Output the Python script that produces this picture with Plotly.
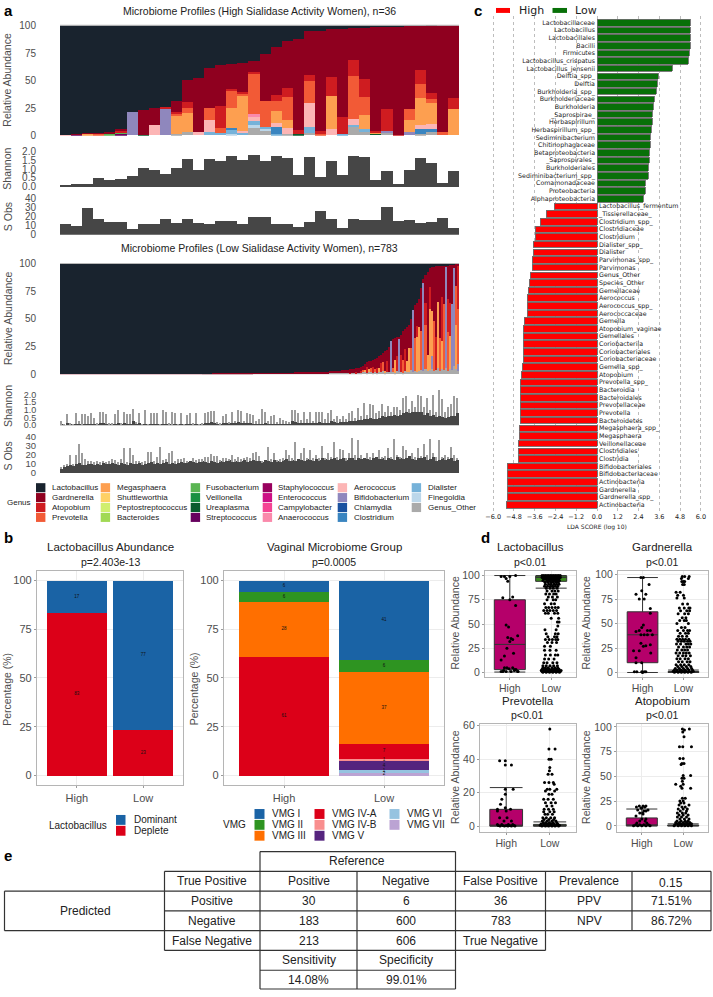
"""
Sialidase activity and the vaginal microbiome: five panel figure.
Values are read off the published picture by eye.
"""

import plotly.graph_objects as go

W, H = 713, 997
SANS = "Liberation Sans, Arial, sans-serif"
DEJA = "DejaVu Sans, sans-serif"
GREY = "#4d4d4d"

# ── a: genus colours (legend order) ──────────────────────
genus_names = [
    "Lactobacillus", "Gardnerella", "Atopobium", "Prevotella",
    "Megasphaera", "Shuttleworthia", "Peptostreptococcus", "Bacteroides",
    "Fusobacterium", "Veillonella", "Ureaplasma", "Streptococcus",
    "Staphylococcus", "Enterococcus", "Campylobacter", "Anaerococcus",
    "Aerococcus", "Bifidobacterium", "Chlamydia", "Clostridium",
    "Dialister", "Finegoldia", "Genus_Other",
]
genus_colors = [
    "#19232e", "#8f001f", "#cf1c20", "#f25a36",
    "#fd9f50", "#fed065", "#d0ee6e", "#a1d954",
    "#5ab552", "#1a9041", "#0a5b2d", "#67015e",
    "#98005e", "#cc0f85", "#f44494", "#fa89ab",
    "#fcb5b5", "#8f87bd", "#1a52a0", "#3a85c0",
    "#76b2d9", "#bcd7ea", "#aaaaaa",
]

# ── a: high sialidase, 36 samples ────────────────────────
h_other = [0, 0, 0, 0, 0, 0, 0, 0, 0, 0, 1, 3, 0, 0, 0, 0, 0, 7.5, 4, 0, 1, 0, 2, 0, 0, 0, 8, 3, 0, 3, 0, 0, 1.5, 3, 0, 0]
h_finegoldia = [0, 0, 0, 0, 0, 0, 0, 0, 0, 0, 0, 0, 0, 0, 0, 1, 0, 1.5, 2, 0, 0, 0, 0, 0, 0, 0, 0, 0, 0, 0, 0, 0, 0, 0, 0, 0]
h_dialister = [0, 0, 0, 0, 0, 0, 0, 0, 0, 0, 0, 0, 0, 3, 2, 4, 2, 4, 1.5, 1, 0, 0, 5.5, 0, 0, 1, 1.5, 2.5, 0, 0, 0, 0, 0, 0, 0, 0]
h_clostridium = [0, 0, 0, 0, 0, 0, 0, 0, 0, 0, 0, 0, 0, 0, 0, 2, 0, 0, 0, 6.5, 0, 0, 0, 0, 0, 0, 0, 0, 0, 0, 0, 0, 4, 3, 0, 0]
h_bifido = [0, 0, 0, 0, 0, 0, 21.5, 0, 0, 24, 0, 0, 0, 0, 0, 0, 0, 0, 0, 0, 0, 0, 0, 0, 0, 0, 0, 0, 0, 1, 0, 3, 0, 0, 0, 0]
h_aero = [0.5, 0, 0, 0, 0, 0, 0, 0, 9.5, 0, 0, 0, 3, 11, 0, 0, 2, 4, 0, 3.5, 6, 0, 21.5, 0, 6, 0, 5, 0, 0, 0, 0, 0, 4, 4, 0, 0]
h_anaero = [0, 0, 0, 0, 0, 0, 0, 0, 0, 0, 0, 0, 0, 0, 0, 0, 0, 2.5, 0, 0, 0, 0, 0, 0, 0, 0, 0, 0, 0, 0, 0, 0, 0, 0, 0, 0]
h_strepto = [0, 1, 0, 0, 0, 1.5, 0, 0, 0, 0, 0, 0, 0, 0, 0, 0, 0, 0, 0, 0, 0, 0, 0, 0, 0, 0, 0, 0, 0, 0, 0, 0, 0, 0, 0, 0]
h_urea = [0, 0, 0, 0, 0, 0, 0, 0.5, 0, 0, 0, 0, 0, 0, 0, 0, 0, 0, 0, 0, 0, 1, 0, 0, 0, 0, 0, 0, 2, 0, 0, 0, 0, 0, 0, 0]
h_fuso = [0, 0, 0, 0, 1.5, 1.5, 0, 0, 0, 0, 0, 0, 0, 0, 0, 0, 0, 0, 0, 0, 0, 0, 0, 0, 0, 0, 0, 0, 0, 0, 0, 0, 0, 0, 0, 0]
h_mega = [0, 0, 1.5, 0, 0, 0, 0, 0, 0, 0, 17, 17, 0, 0, 0, 18, 32.5, 0, 0, 11, 7, 0, 0, 0, 30, 0, 0, 13, 1, 0, 0, 11, 24.5, 19, 0, 24]
h_prev = [0, 0, 0, 1.5, 0, 0, 0, 0, 0, 0, 2, 5, 0, 11, 5, 16, 1.5, 36.5, 23.5, 9, 21, 0, 20, 1, 0, 0, 39, 16, 0, 0, 0, 9.5, 13, 4, 3, 0]
h_atop = [0, 0, 0, 0, 0.5, 1, 0, 0, 0, 1.5, 1, 5, 0, 0, 20, 1, 1, 1, 0, 6, 8, 4, 6, 3, 17, 15.5, 15, 17, 1, 19.5, 0.5, 0, 12, 5.5, 0, 10]
h_gard = [0, 0.5, 0.5, 0.5, 1.5, 2, 0, 22.5, 15, 0, 10, 20, 49, 36, 37, 23, 27, 10.5, 43, 43, 42.5, 82, 39.5, 90.5, 43, 80, 28.5, 46, 94, 75, 98.5, 76, 40.5, 61.2, 97, 66]
h_lacto = [99.5, 98.5, 98, 98, 96.5, 94, 78.5, 77, 75.5, 74.5, 69, 50, 48, 39, 36, 35, 34, 32.5, 26, 20, 14.5, 13, 5.5, 5.5, 4, 3.5, 3, 2.5, 2, 1.5, 1, 0.5, 0.5, 0.3, 0, 0]
h_shannon = [0.09, 0.15, 0.15, 0.5, 0.39, 0.44, 0.57, 1.06, 0.9, 0.73, 1.01, 1.52, 0.9, 1.56, 1.41, 1.7, 1.47, 1.78, 1.41, 1.69, 1.58, 0.64, 1.67, 0.53, 1.43, 0.66, 1.69, 1.63, 0.35, 0.86, 0.17, 0.94, 1.61, 1.34, 0.2, 0.88]
h_sobs = [12, 10, 29, 17, 14, 14, 6, 12, 12, 17, 13, 17, 13, 12, 15, 15, 12, 20, 20, 12, 12, 9, 14, 26, 17, 7, 17, 16, 16, 31, 15, 16, 13, 14, 18, 8]

# ── a: low sialidase, 783 samples read as blocks ─────────
# flat left end in 27 wide blocks, the rising right end in 64 narrow ones
low_block_start = list(range(0, 530, 20)) + list(range(530, 786, 4))
flat_other = [0, 0, 0, 0, 0, 0, 0, 0, 0, 0, 0, 0, 0, 0, 0.1, 0.2, 0.2, 0.3, 0.3, 0.4, 0.5, 0.5, 0.6, 0.6, 0.7, 0.8, 0.8]
flat_gard = [0.1, 0.1, 0.1, 0.1, 0.2, 0.2, 0.2, 0.3, 0.3, 0.4, 0.5, 0.5, 0.5, 0.5, 0.6, 0.6, 0.7, 0.7, 0.8, 0.8, 0.9, 1, 1, 1.2, 1.2, 1.4, 1.5]
flat_lacto = [99.9, 99.9, 99.9, 99.9, 99.8, 99.8, 99.8, 99.7, 99.7, 99.6, 99.5, 99.5, 99.5, 99.5, 99.3, 99.2, 99.1, 99, 98.9, 98.8, 98.6, 98.5, 98.4, 98.2, 98.1, 97.8, 97.7]
flat_none = [0] * 27
tail_other = [1, 1, 1, 1, 1, 1, 1, 1, 1, 1,
              1, 1, 1, 1, 1, 1, 2, 2, 1, 2,
              2, 1, 2, 1, 2, 2, 3, 1, 2, 2,
              2, 2, 1, 3, 2, 2, 1, 3, 2, 2,
              4, 2, 3, 2, 3, 4, 3, 5, 3, 4,
              5, 3, 4, 6, 3, 5, 4, 6, 3, 5,
              4, 8, 5, 3]
tail_bifido = [0, 0, 0, 0, 0, 0, 0, 0, 0, 0,
               0, 0, 0, 0, 0, 0, 0, 0, 0, 0,
               0, 0, 0, 0, 0, 0, 0, 0, 0, 0,
               28, 0, 0, 0, 30, 0, 0, 0, 0, 0,
               0, 56, 0, 0, 0, 0, 80, 0, 0, 0,
               12, 0, 0, 0, 0, 0, 0, 92, 0, 0,
               60, 88, 0, 6]
tail_mega = [0, 0, 0, 0, 0, 0, 0, 0, 0, 0,
             0, 0, 0, 0, 0, 0, 0, 2, 0, 3,
             0, 0, 0, 0, 4, 0, 0, 2, 0, 0,
             0, 0, 12, 0, 0, 0, 0, 0, 10, 22,
             0, 0, 0, 32, 40, 0, 0, 0, 15, 55,
             40, 0, 0, 60, 0, 25, 0, 0, 0, 30,
             0, 0, 40, 0]
tail_prev = [0, 0, 0, 0, 0, 0, 0, 0, 0, 0,
             0, 0, 0, 0, 0, 0, 2, 0, 0, 0,
             4, 0, 3, 0, 0, 0, 8, 0, 0, 0,
             0, 4, 0, 0, 0, 0, 12, 0, 0, 0,
             20, 0, 30, 0, 0, 35, 0, 40, 0, 0,
             0, 45, 0, 0, 30, 0, 60, 0, 35, 0,
             0, 0, 35, 50]
tail_atop = [0, 0, 0, 0, 0, 0, 0, 0, 0, 0,
             0.5, 0, 0, 1, 0, 2, 0, 0, 6, 0,
             0, 6, 0, 5, 0, 8, 0, 0, 10, 0,
             0, 0, 0, 14, 0, 16, 0, 20, 0, 0,
             0, 0, 0, 10, 0, 0, 0, 20, 0, 20,
             0, 0, 30, 0, 0, 40, 0, 0, 30, 30,
             0, 0, 0, 40]
tail_gard = [2, 2, 2, 2.5, 2.5, 2.5, 3, 3, 3, 3,
             3, 4, 4, 3.5, 5, 3.5, 3.5, 5, 4, 7,
             6.5, 6, 9, 9, 11, 8, 8, 18, 10, 23,
             0, 26, 20, 17, 2, 18, 26, 18, 31, 21,
             26, 0, 30, 21, 25, 39, 3, 25, 75, 17,
             40, 49.5, 64, 32, 65.5, 28.5, 35, 1, 31, 34.5,
             35.5, 3.7, 20, 1]
tail_lacto = [97, 97, 97, 96.5, 96.5, 96.5, 96, 96, 96, 96,
              95.5, 95, 95, 94.5, 94, 93.5, 92.5, 91, 89, 88,
              87.5, 87, 86, 85, 83, 82, 81, 79, 78, 75,
              70, 68, 67, 66, 66, 64, 61, 59, 57, 55,
              50, 42, 37, 35, 32, 22, 14, 10, 7, 4,
              3, 2.5, 2, 2, 1.5, 1.5, 1, 1, 1, 0.5,
              0.5, 0.3, 0, 0]

low_shannon_base = [
    .05, .03, .2, .05, .05, .08, .1, .05, .1, .08, .12, .1, .08, .2, .15, .1, .08, .08, .1, .2,
    .1, .2, .1, .12, .3, .1, .2, .06, .12, .05, .1, .08, .1, .05, .1, .08, .08, .06, .08, .05,
    .08, .05, .08, .1, .08, .08, .06, .08, .15, .2, .25, .2, .12, .1, .15, .2, .15, .2, .15, .25,
    .2, .15, .2, .2, .12, .12, .1, .12, .15, .12, .1, .1, .12, .08, .1, .1, .12, .3, .25, .15,
    .15, .2, .15, .2, .15, .2, .25, .2, .2, .2, .3, .25, .2, .25, .25, .25, .3, .3, .3, .35,
    .35, .45, .4, .5, .45, .45, .5, .6, .55, .6, .6, .7, .65, .7, .8, .85, .8, .85, .85, .9,
    .9, .7, .8, .65, .7, .55, .6, .55, .5, .55, .6, .65, .8]
low_shannon_peak = [
    .3, .1, .75, .2, .1, .8, .3, .75, .75, .65, .8, .5, .2, .85, .85, .75, .15, .2, .75, 1.0,
    .2, .9, .75, .75, 1.07, .25, .8, .1, 1.0, .1, .8, .8, .8, .1, 1.0, .85, .15, .85, .8, .1,
    .8, .1, .7, .8, .15, .8, .1, .15, .8, .9, .95, .95, .2, .2, .65, .75, .2, .85, .3, 1.0,
    .95, .3, .8, .75, .7, .3, .4, 1.07, .9, .3, .65, .7, .2, .5, .35, .3, .2, 1, 1, .8,
    .35, .9, .4, .85, .3, .9, .9, .85, .4, .8, 1, .45, .65, .4, .65, .4, .8, .95, .5, 1.13,
    .6, 1.45, .7, 1.4, 1.35, .8, .95, 1.4, .9, 1.3, .9, 1.2, 1.2, 1.0, 1.8, 1.9, 1.1, 1.6, 1.2, 2.0,
    1.9, 1.2, 1.8, 1.0, 2.0, .9, 2.3, 1.7, .9, 1.2, 1.4, 1.9, 1.8]
low_sobs_base = [
    4, 6, 8, 9, 8, 10, 11, 9, 9, 10, 10, 9, 10, 9, 11, 10, 10, 11, 10, 9,
    11, 10, 9, 11, 10, 10, 11, 9, 10, 11, 12, 10, 11, 10, 11, 12, 10, 11, 10, 11,
    12, 11, 12, 13, 12, 11, 12, 13, 12, 11, 13, 12, 11, 13, 12, 13, 14, 12, 13, 12,
    13, 14, 12, 13, 14, 13, 13, 12, 14, 13, 12, 14, 13, 12, 14, 15, 13, 14, 13, 15,
    14, 13, 15, 14, 13, 15, 14, 16, 15, 14, 15, 16, 14, 15, 16, 14, 17, 16, 14, 16,
    15, 17, 15, 14, 16, 18, 15, 16, 14, 17, 15, 14, 18, 16, 15, 17, 19, 15, 14, 16,
    17, 18, 14, 15, 18, 13, 14, 16, 14, 15, 16, 13, 14]
low_sobs_peak = [
    7, 9, 10, 20, 9, 20, 32, 22, 15, 13, 13, 12, 13, 12, 13, 12, 13, 15, 14, 12,
    15, 27, 12, 27.5, 20, 13, 13, 12, 13, 23, 23, 13, 18, 29, 14, 15, 22, 24, 13, 15,
    15, 17, 13, 13, 16.5, 14, 15, 15, 18, 18, 21, 19, 19, 14, 16, 16, 15, 19.5, 15, 18,
    15, 17, 18, 17, 22, 23, 19, 13, 14, 28.5, 15, 22, 14, 15, 16, 25.6, 20, 16, 34, 15,
    22, 27, 16, 25.6, 17, 20, 16, 30, 17, 22, 18, 34, 18, 26, 25, 16, 22, 38.5, 20, 36,
    20, 17, 22, 18, 22, 18, 25, 18, 19, 27, 18, 37, 20, 18, 30, 25, 19, 22, 18, 27,
    19, 32, 20, 37, 22, 18, 36, 17, 20, 18, 28.5, 20, 17]

# ── b: stacked percentages ───────────────────────────────
abundance_groups = ["High", "Low"]
lacto_deplete = [83.3, 23.3]
lacto_dominant = [16.7, 76.7]
lacto_text = [["83", "23"], ["17", "77"]]

vmg_names = ["VMG VII", "VMG VI", "VMG V", "VMG IV-B", "VMG IV-A", "VMG III", "VMG II", "VMG I"]
vmg_colors = ["#bba3d3", "#96c3e0", "#55247e", "#f98e8e", "#dc0018", "#ff6f00", "#2e9421", "#1a63a5"]
vmg_high = [0, 0, 0, 0, 61.1, 27.8, 5.55, 5.55]
vmg_low = [1.7, 1.3, 4.4, 1.3, 7.6, 36.8, 6.1, 40.7]
vmg_high_text = ["", "", "", "", "61", "28", "6", "6"]
vmg_low_text = ["2", "1", "4", "1", "7", "37", "6", "41"]

# ── c: LDA scores ────────────────────────────────────────
lda_low_names = [
    "Lactobacillaceae", "Lactobacillus", "Lactobacillales", "Bacilli", "Firmicutes",
    "Lactobacillus_crispatus", "Lactobacillus_jensenii", "Delftia_spp_", "Delftia",
    "Burkholderia_spp_", "Burkholderiaceae", "Burkholderia", "_Saprospirae_", "Herbaspirillum",
    "Herbaspirillum_spp_", "Sediminibacterium", "Chitinophagaceae", "Betaproteobacteria",
    "_Saprospirales_", "Burkholderiales", "Sediminibacterium_spp_", "Comamonadaceae",
    "Proteobacteria", "Alphaproteobacteria",
]
lda_low_scores = [5.39, 5.39, 5.39, 5.39, 5.32, 5.26, 4.34, 3.55, 3.51, 3.45, 3.33, 3.28, 3.18, 3.18,
                  3.16, 3.10, 3.08, 3.04, 3.03, 2.99, 2.97, 2.83, 2.81, 2.66]
lda_high_names = [
    "Lactobacillus_fermentum", "_Tissierellaceae_", "Clostridium_spp_", "Clostridiaceae", "Clostridium",
    "Dialister_spp_", "Dialister", "Parvimonas_spp_", "Parvimonas", "Genus_Other", "Species_Other",
    "Gemellaceae", "Aerococcus", "Aerococcus_spp_", "Aerococcaceae", "Gemella", "Atopobium_vaginae",
    "Gemellales", "Coriobacteriia", "Coriobacteriales", "Coriobacteriaceae", "Gemella_spp_", "Atopobium",
    "Prevotella_spp_", "Bacteroidia", "Bacteroidales", "Prevotellaceae", "Prevotella", "Bacteroidetes",
    "Megasphaera_spp_", "Megasphaera", "Veillonellaceae", "Clostridiales", "Clostridia",
    "Bifidobacteriales", "Bifidobacteriaceae", "Actinobacteria", "Gardnerella", "Gardnerella_spp_",
    "Actinobacteria",
]
lda_high_scores = [-2.43, -2.93, -3.28, -3.56, -3.56, -3.66, -3.66, -3.72, -3.72, -3.85, -3.91, -3.95,
                   -3.99, -3.99, -4.01, -4.20, -4.22, -4.22, -4.26, -4.26, -4.26, -4.30, -4.35, -4.41,
                   -4.41, -4.41, -4.41, -4.43, -4.43, -4.47, -4.47, -4.51, -4.55, -4.55, -5.18, -5.18,
                   -5.20, -5.20, -5.20, -5.24]
lda_ticks = [-6, -4.8, -3.6, -2.4, -1.2, 0, 1.2, 2.4, 3.6, 4.8, 6]

# ── d: box stats (q1, median, q3, lower, upper) and points ──
box_lacto = {"High": (3, 29, 75, 0.5, 100), "Low": (94, 98, 99.5, 87, 100)}
box_gard = {"High": (10, 38.5, 62, 0, 97), "Low": (0, 0.3, 1, 0, 2.5)}
box_prev = {"High": (0, 0.5, 10, 0, 23), "Low": (0, 0.2, 1, 0, 2.5)}
box_atop = {"High": (0, 1, 8, 0, 17), "Low": (0, 0.2, 0.8, 0, 2)}

# value: horizontal jitter offsets of the points seen at that value
lacto_high_pts = {100: [.14], 99: [-.21, -.13, 0], 97: [-.09], 94: [-.05], 78: [.07], 77: [-.17], 75: [0], 69: [.14],
                  49: [-.09], 47: [-.03], 38: [.19], 36: [-.05], 35: [.03], 34: [.07], 32: [0], 25: [-.07], 20: [.09],
                  17: [-.13], 13: [-.21], 5: [-.13, -.07, .07], 4: [-.02], 3: [.15, .12], 2: [.11, -.15],
                  1: [-.21, -.17, -.09, .03, .19, .2]}
lacto_low_pts = {
    100: [-.22, -.18, -.14, -.1, -.06, -.02, .02, .06, .1, .14, .18, .22],
    99: [-.2, -.16, -.12, -.08, -.04, 0, .04, .08, .12, .16, .2],
    98: [-.22, -.18, -.14, -.1, -.06, -.02, .02, .06, .1, .14, .18, .22],
    96.5: [-.18, -.12, -.06, 0, .06, .12, .18], 95: [-.2, -.1, -.04, .03, .09, .15, .2],
    93: [-.15, -.08, -.01, .05, .12, .17], 91: [-.14, -.06, 0, .07, .13, .19],
    89: [-.16, -.09, -.02, .04, .1, .16], 87: [-.12, -.03, .05, .14], 84: [-.1, .02, .09, .17],
    81: [-.13, -.04, .06, .12], 78: [-.07, .03, .15], 75: [-.1, .05, .11], 71: [-.16, 0, .08],
    67: [-.13, -.06, .02, .1, .17], 64: [-.18, -.1, -.03, .05, .13], 61: [-.14, -.07, .08, .16],
    56: [0, .18], 52: [.15, .19], 48: [.16], 44: [-.15, .12], 40: [-.12, .1, .17], 37: [-.08, .08, .14],
    34: [-.14, -.05, .03, .11, .16], 31: [-.09, .02, .13], 27: [-.16, -.02], 23: [-.16, -.03, .12],
    18: [-.14, -.02, .1, .16], 14: [-.16, -.06, .07], 10: [-.18, -.1, .04, .14],
    7: [-.2, -.12, -.03, .06, .15], 5: [-.2, -.14, -.07, .02, .09, .16],
    3.5: [-.22, -.17, -.11, -.05, .01, .07, .13, .19],
    2: [-.24, -.18, -.13, -.08, -.03, .03, .08, .14, .2, .24],
    1: [-.22, -.16, -.1, -.05, 0, .05, .1, .16, .22], 0.3: [-.2, -.12, -.04, .04, .12, .2],
}
gard_high_pts = {97: [-.04, .02], 90: [.16], 83.5: [-.02], 80: [-.16, .08], 75: [-.08, .04], 65.5: [.19], 60.5: [.19],
                 48.5: [.02], 46: [-.02], 43: [-.08, .12, .19], 42: [-.16], 38.5: [-.04, .04, .12, .24], 30: [-.04],
                 28.4: [.19], 27.4: [.08], 26.7: [.02], 22.3: [-.22, -.08], 20: [.2], 15: [-.16], 10: [-.16, -.02],
                 0.7: [-.2, -.14, -.02, .04, .08], 0: [0]}
gard_low_pts = {
    98: [-.03, .03, .14], 96: [-.05, .12], 93: [-.04, 0, .03], 90: [-.02, .02], 82: [-.18, -.08], 79: [-.14, 0],
    76: [-.16, .02], 70: [-.02, .1], 66: [-.1, .02, .13, .16], 63: [-.07, .08, .15], 60: [-.13, .03, .12],
    56: [-.03, .06], 53: [-.09, .02, .07], 50: [-.16, .12], 46: [-.05, .04], 43: [-.14, 0, .1, .15],
    40: [-.08, .05, .12], 37: [-.12, -.03, .08], 34: [-.16, -.09, -.02, .05, .13], 32: [-.13, -.05, .02, .1, .16],
    29: [-.17, -.07, .06, .12, .18], 26: [-.12, 0, .08, .15], 23: [-.15, -.04, .03, .1],
    20: [-.18, -.09, 0, .07, .14], 17: [-.13, -.02, .06, .17], 14: [-.16, -.08, .04, .12],
    11: [-.12, -.03, .09, .16], 8: [-.18, -.07, .02, .13], 6: [-.14, -.04, .07, .18], 4: [-.2, -.1, 0, .1, .2],
    2.5: [-.22, -.15, -.06, .04, .13, .22], 1.2: [-.25, -.17, -.09, -.02, .06, .14, .24],
    0.3: [-.22, -.13, -.05, .03, .11, .19],
}
prev_high_pts = {39: [-.15, -.02], 36.5: [-.02, .12], 22: [-.02, .16], 19: [-.02], 16: [-.1], 13: [-.13], 11: [-.02],
                 10: [-.2, .1], 9: [-.2, 0], 5: [-.15, .02], 3: [-.05, .12], 1: [-.2, -.1, .05, .15],
                 0.3: [-.18, -.08, 0, .08, .18], 0: [-.14, -.04, .04, .12, .2]}
prev_low_pts = {58: [0], 46: [-.02, .12], 40: [-.02, .03], 35: [0], 33: [-.01], 31: [-.04, .05], 26: [-.12, -.02, .08],
                25: [.1], 22: [-.06, 0, .16], 21: [-.1, .11], 19: [.05, -.02], 16: [-.14, -.04, .08],
                14: [-.1, .03, .13], 12: [-.07, .05], 10: [-.13, -.03, .08], 8.5: [-.14, 0, .1], 7: [-.11, -.05, .06],
                5: [-.16, -.08, .02, .11], 4: [-.13, -.02, .09], 3: [-.17, -.06, .05, .14],
                2: [-.15, -.09, -.01, .07, .16], 1.2: [-.2, -.11, -.04, .03, .1, .18],
                0.5: [-.22, -.14, -.07, 0, .08, .15, .22], 0: [-.18, -.1, -.03, .05, .12, .2]}
atop_high_pts = {20: [-.06, .03, .1], 19: [-.13, .07], 18: [-.02, 0], 16: [-.1, .15], 15: [.05, .1], 13: [-.05, .02],
                 12: [.03], 10: [-.14], 7: [0, .1], 5: [-.05, .08], 3: [-.12, .12], 1: [-.15, -.05, .05, .16],
                 0: [-.2, -.1, 0, .1, .2]}
atop_low_pts = {98: [-.02, .15], 97: [.03], 95: [-.01], 90: [.02], 80: [-.09, -.01, .2], 68: [-.08, 0], 63: [-.03, .02],
                62: [-.05], 51: [0, .18], 48: [-.03, .02], 45: [-.02], 42: [-.18, 0], 40: [-.06], 38: [.18, -.03],
                28: [-.02, .05], 25: [-.08, 0], 23: [-.06, .02], 21: [-.1, .14], 19: [.05, -.03], 17: [-.12, 0, .1],
                15: [-.07, .08], 13: [-.14, -.02, .06], 11: [-.1, 0, .12], 9: [-.14, -.04, .08], 7: [-.08, .03, .14],
                5: [-.15, -.05, .05, .12], 3.5: [-.18, -.09, 0, .08, .16], 2: [-.14, -.06, .03, .12, .2],
                1: [-.2, -.1, -.02, .07, .15], 0.2: [-.22, -.12, -.04, .04, .12, .2]}

# ── e: confusion table ───────────────────────────────────
table_rows = [
    ["True Positive", "Positive", "Negative", "False Positive", "Prevalence", "0.15"],
    ["Positive", "30", "6", "36", "PPV", "71.51%"],
    ["Negative", "183", "600", "783", "NPV", "86.72%"],
    ["False Negative", "213", "606", "True Negative", "", ""],
    ["", "Sensitivity", "Specificity", "", "", ""],
    ["", "14.08%", "99.01%", "", "", ""],
]

fig = go.Figure()
annots, shapes, axes = [], [], {}
n_axes = 0


def fx(px):
    return px / W


def fy(px):
    return 1 - px / H


def label(x, y, text, size=10.5, color="#222222", anchor="center", angle=0, family=SANS, bold=False):
    annots.append(dict(
        x=fx(x), y=fy(y), xref="paper", yref="paper", text=f"<b>{text}</b>" if bold else text,
        showarrow=False, xanchor=anchor, yanchor="middle", textangle=angle,
        font=dict(size=size, color=color, family=family),
    ))


def rect(x0, x1, y0, y1, color):
    shapes.append(dict(type="rect", xref="paper", yref="paper", x0=fx(x0), x1=fx(x1),
                       y0=fy(y0), y1=fy(y1), fillcolor=color, line_width=0))


def hline(x0, x1, y):
    shapes.append(dict(type="line", xref="paper", yref="paper", x0=fx(x0), x1=fx(x1),
                       y0=fy(y), y1=fy(y), line=dict(color="#333333", width=1.2)))


def vline(x, y0, y1):
    shapes.append(dict(type="line", xref="paper", yref="paper", x0=fx(x), x1=fx(x),
                       y0=fy(y0), y1=fy(y1), line=dict(color="#333333", width=1.2)))


def new_axes(x0, x1, y_top, y_bottom, xrange, yrange, xkw=None, ykw=None):
    """Axis pair placed by pixel box, returns the trace refs."""
    global n_axes
    n_axes += 1
    s = str(n_axes)
    xa = dict(domain=[fx(x0), fx(x1)], range=xrange, anchor="y" + s, showgrid=False, zeroline=False,
              showticklabels=False, ticks="", fixedrange=True)
    ya = dict(domain=[fy(y_bottom), fy(y_top)], range=yrange, anchor="x" + s, showgrid=False, zeroline=False,
              showticklabels=False, ticks="", fixedrange=True)
    xa.update(xkw or {})
    ya.update(ykw or {})
    axes["xaxis" + s] = xa
    axes["yaxis" + s] = ya
    return "x" + s, "y" + s


def strip_y(vals, standoff=21, size=10):
    return dict(showticklabels=True, tickvals=vals, ticks="outside", ticklen=standoff,
                tickcolor="rgba(0,0,0,0)", tickfont=dict(size=size, color=GREY, family=SANS))


def theme_bw(tick_vals, tick_size=11):
    frame = dict(showline=True, mirror=True, linecolor="#b5b5b5", linewidth=1.2, ticks="outside", ticklen=2,
                 tickcolor="#9a9a9a", tickwidth=0.8)
    x = dict(frame, showgrid=True, gridcolor="#ececec", showticklabels=True, tickvals=[1, 2],
             ticktext=abundance_groups, tickfont=dict(size=tick_size, color=GREY, family=SANS))
    y = dict(frame, showgrid=True, gridcolor="#ececec", showticklabels=True, tickvals=tick_vals,
             tickfont=dict(size=tick_size, color=GREY, family=SANS))
    return x, y


# ── panel a, high ────────────────────────────────────────
high_stack = [
    ("Genus_Other", h_other), ("Finegoldia", h_finegoldia), ("Dialister", h_dialister), ("Clostridium", h_clostridium),
    ("Bifidobacterium", h_bifido), ("Aerococcus", h_aero), ("Anaerococcus", h_anaero), ("Streptococcus", h_strepto),
    ("Ureaplasma", h_urea), ("Fusobacterium", h_fuso), ("Megasphaera", h_mega), ("Prevotella", h_prev),
    ("Atopobium", h_atop), ("Gardnerella", h_gard), ("Lactobacillus", h_lacto),
]
color_of = dict(zip(genus_names, genus_colors))
xr, yr = new_axes(60, 459, 20.7, 132.3, [-0.5, 35.5], [0, 100], ykw=strip_y([0, 25, 50, 75, 100]))
for name, vals in high_stack:
    fig.add_trace(go.Bar(x=list(range(36)), y=vals, name=name, marker=dict(color=color_of[name], line_width=0),
                         width=1, xaxis=xr, yaxis=yr))

xr, yr = new_axes(60, 459, 147, 184, [-0.5, 35.5], [0, 2.04], ykw=strip_y([0, .5, 1, 1.5, 2]))
axes["yaxis" + yr[1:]]["tickformat"] = ".1f"
fig.add_trace(go.Bar(x=list(range(36)), y=h_shannon, width=1, marker=dict(color="#464646", line_width=0), xaxis=xr, yaxis=yr))

xr, yr = new_axes(60, 459, 195, 232.3, [-0.5, 35.5], [0, 40.3], ykw=strip_y([0, 10, 20, 30, 40]))
fig.add_trace(go.Bar(x=list(range(36)), y=h_sobs, width=1, marker=dict(color="#464646", line_width=0), xaxis=xr, yaxis=yr))

# ── panel a, low ─────────────────────────────────────────
low_stack = [
    ("Genus_Other", flat_other + tail_other), ("Bifidobacterium", flat_none + tail_bifido),
    ("Megasphaera", flat_none + tail_mega), ("Prevotella", flat_none + tail_prev),
    ("Atopobium", flat_none + tail_atop), ("Gardnerella", flat_gard + tail_gard),
    ("Lactobacillus", flat_lacto + tail_lacto),
]
low_widths = [b - a for a, b in zip(low_block_start, low_block_start[1:] + [786])]
low_centers = [a + w / 2 for a, w in zip(low_block_start, low_widths)]
for _, vals in low_stack:
    assert len(vals) == len(low_centers)
xr, yr = new_axes(60, 459, 261.7, 373.3, [0, 786], [0, 100], ykw=strip_y([0, 25, 50, 75, 100]))
for name, vals in low_stack:
    fig.add_trace(go.Bar(x=low_centers, y=vals, width=low_widths,
                         marker=dict(color=color_of[name], line_width=0), xaxis=xr, yaxis=yr))

cols = list(range(133))
for base, peak, top, bottom, yrange, ticks, fmt, size in [
    (low_shannon_base, low_shannon_peak, 388, 425, [0, 2.37], [0, .5, 1, 1.5, 2], ".1f", 9),
    (low_sobs_base, low_sobs_peak, 434, 473.3, [0, 43], [0, 10, 20, 30, 40], None, 9.5),
]:
    xr, yr = new_axes(60, 459, top, bottom, [-0.5, 132.5], yrange, ykw=strip_y(ticks, size=size))
    if fmt:
        axes["yaxis" + yr[1:]]["tickformat"] = fmt
    fig.add_trace(go.Bar(x=cols, y=base, width=1, marker=dict(color="#464646", line_width=0), xaxis=xr, yaxis=yr))
    fig.add_trace(go.Bar(x=cols, y=[max(p - b, 0) for p, b in zip(peak, base)], width=0.35,
                         marker=dict(color="#9c9c9c", line_width=0), xaxis=xr, yaxis=yr))

rect(60, 459, 20, 20.9, "#b8b8b8")
rect(60, 459, 261, 261.9, "#b8b8b8")
label(259, 6, "Microbiome Profiles (High Sialidase Activity Women), n=36", 10.5)
label(259, 246, "Microbiome Profiles (Low Sialidase Activity Women), n=783", 10.5)
for y, text in [(76, "Relative Abundance"), (166, "Shannon"), (214, "S Obs"),
                (317, "Relative Abundance"), (406, "Shannon"), (456, "S Obs")]:
    label(7.5, y, text, 10.5, GREY, angle=-90)

legend_columns = [(36, 49.7), (100.7, 114.7), (190.7, 204.3), (262.7, 276.3), (337.7, 351.7), (411.7, 425.7)]
label(19, 503, "Genus", 8)
for i, name in enumerate(genus_names):
    col, row = (i // 4, i % 4) if i < 20 else (5, i - 20)
    x_key, x_text = legend_columns[col]
    rect(x_key, x_key + 9.4, 483.5 + row * 10, 492.7 + row * 10, color_of[name])
    label(x_text, 488 + row * 10, name, 8, anchor="left")

# ── panel b ──────────────────────────────────────────────
b_x, b_y = theme_bw([0, 25, 50, 75, 100], 11)
b_x = dict(b_x, tickvals=[0, 1])
xr, yr = new_axes(37, 183, 572, 789, [-0.6, 1.6], [-5, 105], b_x, b_y)
fig.add_trace(go.Bar(x=[0, 1], y=lacto_deplete, width=0.9, marker=dict(color="#dc0018", line_width=0), xaxis=xr, yaxis=yr))
fig.add_trace(go.Bar(x=[0, 1], y=lacto_dominant, width=0.9, marker=dict(color="#1a63a5", line_width=0), xaxis=xr, yaxis=yr))
for i in range(2):
    fig.add_trace(go.Scatter(
        x=[i, i], y=[lacto_deplete[i] / 2, lacto_deplete[i] + lacto_dominant[i] / 2], mode="text",
        text=[lacto_text[0][i], lacto_text[1][i]], textfont=dict(size=4.5, color="#111111", family=SANS),
        xaxis=xr, yaxis=yr))

xr, yr = new_axes(224, 444, 572, 789, [-0.6, 1.6], [-5, 105], b_x, b_y)
for j, color in enumerate(vmg_colors):
    fig.add_trace(go.Bar(x=[0, 1], y=[vmg_high[j], vmg_low[j]], width=0.9,
                         marker=dict(color=color, line_width=0), xaxis=xr, yaxis=yr))
for i, (vals, texts) in enumerate([(vmg_high, vmg_high_text), (vmg_low, vmg_low_text)]):
    running, mids = 0, []
    for v in vals:
        mids.append(running + v / 2)
        running += v
    fig.add_trace(go.Scatter(x=[i] * len(vals), y=mids, mode="text", text=texts,
                             textfont=dict(size=4.5, color="#111111", family=SANS), xaxis=xr, yaxis=yr))

label(110, 548, "Lactobacillus Abundance", 11.5)
label(110, 563, "p=2.403e-13", 10.5)
label(334, 548, "Vaginal Microbiome Group", 11.5)
label(334, 563, "p=0.0005", 10.5)
label(7.5, 692, "Percentage (%)", 10.5, GREY, angle=-90)
label(194, 692, "Percentage (%)", 10.5, GREY, angle=-90)

label(109, 830, "Lactobacillus", 10, anchor="right")
for y, name, color in [(824, "Dominant", "#1a63a5"), (835, "Deplete", "#dc0018")]:
    rect(116, 125.5, y - 5, y + 5, color)
    label(132, y, name, 10, anchor="left")
label(248, 829, "VMG", 10, anchor="right")
vmg_key_slots = {"VMG I": (254.5, 270, 818), "VMG II": (254.5, 270, 829), "VMG III": (254.5, 270, 840),
                 "VMG IV-A": (314.5, 330, 818), "VMG IV-B": (314.5, 330, 829), "VMG V": (314.5, 330, 840),
                 "VMG VI": (389.5, 405, 818), "VMG VII": (389.5, 405, 829)}
for name, color in zip(vmg_names, vmg_colors):
    x_key, x_text, y = vmg_key_slots[name]
    rect(x_key, x_key + 10, y - 5, y + 5, color)
    label(x_text, y, name, 10, anchor="left")

# ── panel c ──────────────────────────────────────────────
xr, yr = new_axes(484.5, 709.5, 11, 512, [-6.5, 6.5], [63.8, -0.95], dict(
    showgrid=True, gridcolor="#bdbdbd", griddash="dot", gridwidth=0.8, showticklabels=True, tickvals=lda_ticks,
    tickformat=".1f", tickfont=dict(size=6.5, color="#222222", family=DEJA),
))
n_low = len(lda_low_scores)
fig.add_trace(go.Bar(x=lda_low_scores, y=list(range(n_low)), orientation="h", width=0.86,
                     marker=dict(color="#087008", line=dict(color="#6e6e6e", width=0.9)), xaxis=xr, yaxis=yr))
fig.add_trace(go.Bar(x=lda_high_scores, y=list(range(n_low, n_low + len(lda_high_scores))), orientation="h", width=0.86,
                     marker=dict(color="#ff0000", line=dict(color="#6e6e6e", width=0.9)), xaxis=xr, yaxis=yr))
fig.add_trace(go.Scatter(x=[0] * n_low, y=list(range(n_low)), mode="text", text=[n + " " for n in lda_low_names],
                         textposition="middle left", textfont=dict(size=6.3, color="#222222", family=DEJA),
                         xaxis=xr, yaxis=yr))
fig.add_trace(go.Scatter(x=[0] * len(lda_high_names), y=list(range(n_low, n_low + len(lda_high_names))), mode="text",
                         text=[" " + n for n in lda_high_names], textposition="middle right",
                         textfont=dict(size=6.3, color="#222222", family=DEJA), xaxis=xr, yaxis=yr))
label(597, 528, "LDA SCORE (log 10)", 6, family=DEJA)
rect(496, 510, 3, 8, "#ff0000")
label(517, 5.5, "High", 11, family=DEJA, anchor="left")
rect(552.5, 567, 3, 8, "#087008")
label(573, 5.5, "Low", 11, family=DEJA, anchor="left")

# ── panel d ──────────────────────────────────────────────
d_panels = [
    ("Lactobacillus", (485, 576, 572, 679), [-4.1, 105], [0, 25, 50, 75, 100], box_lacto, lacto_high_pts, lacto_low_pts, (530, 548, 563)),
    ("Gardnerella", (618, 708, 572, 679), [-4.1, 104], [0, 25, 50, 75, 100], box_gard, gard_high_pts, gard_low_pts, (662, 548, 563)),
    ("Prevotella", (480, 576, 727, 836), [-3.4, 61], [0, 20, 40, 60], box_prev, prev_high_pts, prev_low_pts, (527.5, 704, 718)),
    ("Atopobium", (617, 708, 727, 836), [-6, 103], [0, 25, 50, 75, 100], box_atop, atop_high_pts, atop_low_pts, (662, 704, 718)),
]
for name, (x0, x1, y0, y1), yrange, ticks, stats, pts_high, pts_low, (tx, ty1, ty2) in d_panels:
    d_x, d_y = theme_bw(ticks, 10.5)
    xr, yr = new_axes(x0, x1, y0, y1, [0.4, 2.6], yrange, d_x, d_y)
    for pos, group, fill in [(1, "High", "#b5006a"), (2, "Low", "#3a8a1e")]:
        q1, med, q3, lo, up = stats[group]
        fig.add_trace(go.Box(x=[pos], q1=[q1], median=[med], q3=[q3], lowerfence=[lo], upperfence=[up], width=0.75,
                             whiskerwidth=1, boxpoints=False, fillcolor=fill, line=dict(color="#333333", width=1),
                             xaxis=xr, yaxis=yr))
    for pos, pts in [(1, pts_high), (2, pts_low)]:
        xs, ys = [], []
        for value, offsets in pts.items():
            for off in offsets:
                xs.append(pos + off)
                ys.append(value)
        fig.add_trace(go.Scatter(x=xs, y=ys, mode="markers", marker=dict(size=3, color="#000000"),
                                 xaxis=xr, yaxis=yr))
    label(tx, ty1, name, 11.5)
    label(tx, ty2, "p&lt;0.01", 10.5)
    label(455 if x0 < 500 else 586, (y0 + y1) / 2 - 1, "Relative Abundance", 10.5, GREY, angle=-90)

# ── panel e ──────────────────────────────────────────────
hline(260, 455.5, 856)
hline(164.5, 711, 876)
hline(4.5, 711, 896)
hline(164.5, 711, 916)
hline(4.5, 711, 936)
hline(164.5, 545.5, 956)
hline(260, 455.5, 976)
hline(260, 455.5, 995)
vline(4.5, 896, 936)
vline(164.5, 876, 956)
vline(260, 856, 995)
vline(357, 876, 995)
vline(455.5, 856, 995)
vline(545.5, 876, 956)
vline(632, 876, 936)
vline(711, 876, 936)
label(357, 866, "Reference", 12)
label(85, 916, "Predicted", 12)
col_centers = [212, 308.5, 406, 500.5, 589, 671]
for r, row in enumerate(table_rows):
    for c, text in enumerate(row):
        if text:
            label(col_centers[c], 886 + r * 20 + (2 if text == "0.15" else 0), text, 12)

# panel letters
for x, y, letter in [(2, 6, "a"), (2, 538, "b"), (472, 6, "c"), (479, 538, "d"), (2, 860, "e")]:
    label(x, y, letter, 15, "#000000", anchor="left", bold=True)

fig.update_layout(
    width=W, height=H, autosize=False, margin=dict(l=0, r=0, t=0, b=0, pad=0),
    paper_bgcolor="white", plot_bgcolor="rgba(0,0,0,0)", barmode="stack", bargap=0, showlegend=False,
    font=dict(family=SANS), annotations=annots, shapes=shapes, **axes,
)
fig.write_html("out.html", config={"displayModeBar": False}, post_script="document.body.style.margin='0';")
